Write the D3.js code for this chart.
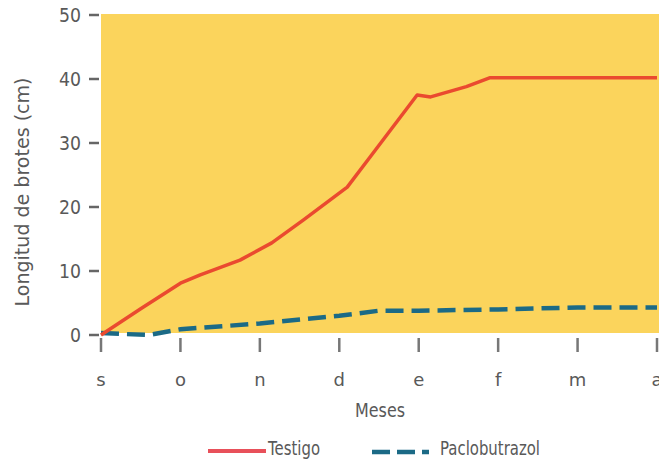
<!DOCTYPE html>
<html><head><meta charset="utf-8">
<script src="https://cdn.jsdelivr.net/npm/d3@7"></script>
<style>body{margin:0;background:#fff}svg{display:block}text{font-family:"DejaVu Sans","Open Sans",sans-serif;fill:#595959}</style>
</head><body><svg id="c" width="659" height="459"></svg>
<script>
const months = ["s","o","n","d","e","f","m","a"];
const yTicks = [0,10,20,30,40,50];
// month index (s=0) and length in cm
const testigoX = [0,0.5,1,1.25,1.75,2.15,2.55,3.1,3.4,3.98,4.15,4.6,4.9,5,6,7];
const testigoY = [0,4.1,8.1,9.4,11.7,14.4,18.0,23.1,28,37.5,37.2,38.8,40.2,40.2,40.2,40.2];
const pacloX = [0,0.6,1,2,3,3.5,4,5,6,7];
const pacloY = [0.3,0,0.9,1.8,3.0,3.8,3.8,4.0,4.3,4.3];

const svg = d3.select("#c");
const x = d3.scaleLinear().domain([0,7]).range([101,657]);
const y = d3.scaleLinear().domain([0,50]).range([335,15]);

svg.append("rect").attr("x",101).attr("y",y(50)-1).attr("width",560).attr("height",y(0)-y(50)-1).attr("fill","#fbd45c");

function squeeze(sel, target){
  sel.attr("textLength", target).attr("lengthAdjust","spacingAndGlyphs");
  return sel;
}

// y ticks
const ya = svg.append("g");
yTicks.forEach(t=>{
  ya.append("line").attr("x1",89).attr("x2",99).attr("y1",y(t)).attr("y2",y(t)).attr("stroke","#666").attr("stroke-width",2.5);
  squeeze(ya.append("text").attr("x",81).attr("y",y(t)).attr("dy","0.36em").attr("text-anchor","end").attr("font-size",20).text(t), t===0?11:22);
});
// x ticks
months.forEach((m,i)=>{
  svg.append("line").attr("x1",x(i)).attr("x2",x(i)).attr("y1",338).attr("y2",352).attr("stroke","#777").attr("stroke-width",2.5);
  svg.append("text").attr("x",x(i)).attr("y",386).attr("text-anchor","middle").attr("font-size",18).text(m);
});
squeeze(svg.append("text").attr("x",380).attr("y",417).attr("text-anchor","middle").attr("font-size",19).text("Meses"), 50);
squeeze(svg.append("text").attr("transform","translate(29,192) rotate(-90)").attr("text-anchor","middle").attr("font-size",19).text("Longitud de brotes (cm)"), 229);

const line = d3.line().x(d=>x(d[0])).y(d=>y(d[1]));
svg.append("path").datum(pacloX.map((v,i)=>[v,pacloY[i]])).attr("d",line).attr("fill","none")
  .attr("stroke","#1b6a86").attr("stroke-width",4.5).attr("stroke-dasharray","18,8");
svg.append("path").datum(testigoX.map((v,i)=>[v,testigoY[i]])).attr("d",line).attr("fill","none")
  .attr("stroke","#ea4a2f").attr("stroke-width",3.5).attr("stroke-linejoin","round");

// legend
svg.append("line").attr("x1",208).attr("x2",266).attr("y1",451).attr("y2",451).attr("stroke","#e8505a").attr("stroke-width",4);
squeeze(svg.append("text").attr("x",268).attr("y",455).attr("font-size",19).text("Testigo"), 52);
svg.append("line").attr("x1",372).attr("x2",437).attr("y1",452).attr("y2",452).attr("stroke","#1b6a86").attr("stroke-width",4.5).attr("stroke-dasharray","18,7,18,7,7");
squeeze(svg.append("text").attr("x",440).attr("y",455).attr("font-size",19).text("Paclobutrazol"), 100);
</script></body></html>
